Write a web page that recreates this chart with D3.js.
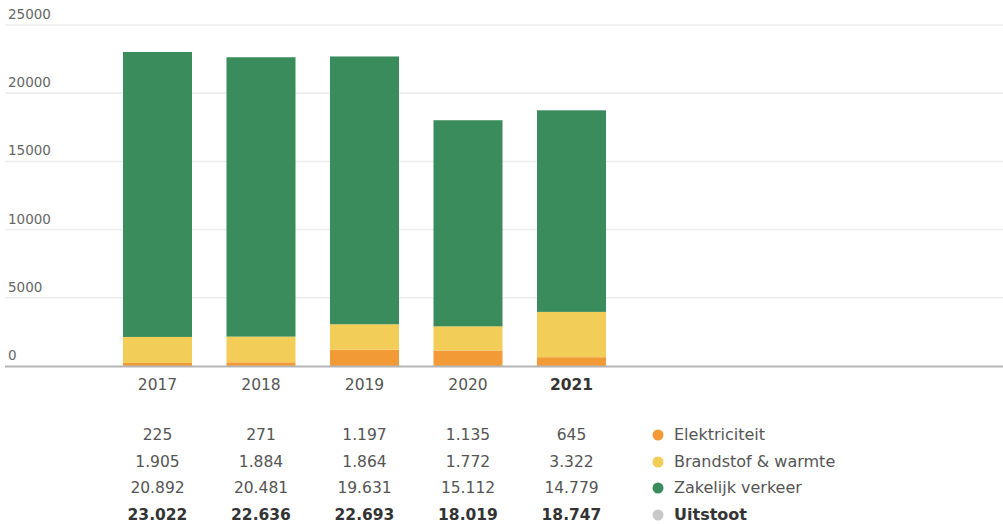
<!DOCTYPE html>
<html><head><meta charset="utf-8">
<script src="https://cdn.jsdelivr.net/npm/d3@7"></script>
<style>body{margin:0;background:#fff;font-family:"DejaVu Sans",sans-serif}</style>
</head><body><svg id="c" width="1003" height="524"></svg>
<script>
const years = ["2017","2018","2019","2020","2021"];
const elektriciteit = [225,271,1197,1135,645];
const brandstof = [1905,1884,1864,1772,3322];
const zakelijk = [20892,20481,19631,15112,14779];
const uitstoot = [23022,22636,22693,18019,18747];
const yTicks = [0,5000,10000,15000,20000,25000];
const seriesNames = ["Elektriciteit","Brandstof & warmte","Zakelijk verkeer","Uitstoot"];
const seriesColors = ["#f29a36","#f2cd57","#3a8c5c","#c8c8c8"];

const svg = d3.select("#c");
const y = d3.scaleLinear().domain([0,25000]).range([366,25]);
const x = d3.scaleBand().domain(years).range([105.75,623.25]).paddingInner(1/3).paddingOuter(1/6);

svg.append("g").selectAll("line").data(yTicks.filter(d=>d>0)).join("line")
  .attr("x1",5).attr("x2",1003).attr("y1",d=>y(d)).attr("y2",d=>y(d))
  .attr("stroke","#ececec").attr("stroke-width",1.5);
svg.append("g").selectAll("text").data(yTicks).join("text")
  .attr("x",8).attr("y",d=>y(d)-6).text(d=>d)
  .attr("font-size",13.5).attr("fill","#666");

const rows = years.map((yr,i)=>({year:yr,e:elektriciteit[i],b:brandstof[i],z:zakelijk[i]}));
const stack = d3.stack().keys(["e","b","z"])(rows);
svg.append("g").selectAll("g").data(stack).join("g")
  .attr("fill",(d,i)=>seriesColors[i])
  .selectAll("rect").data(d=>d).join("rect")
  .attr("x",d=>x(d.data.year)).attr("width",x.bandwidth())
  .attr("y",d=>y(d[1])).attr("height",d=>y(d[0])-y(d[1]));

svg.append("line").attr("x1",5).attr("x2",1003).attr("y1",y(0)+0.5).attr("y2",y(0)+0.5)
  .attr("stroke","#b5b5b5").attr("stroke-width",2);

svg.append("g").selectAll("text").data(years).join("text")
  .attr("x",d=>x(d)+x.bandwidth()/2).attr("y",390).attr("text-anchor","middle")
  .attr("font-size",15.5).attr("fill",(d,i)=>i===4?"#333":"#555")
  .attr("font-weight",(d,i)=>i===4?"bold":"normal").text(d=>d);

const fmt = v => v.toLocaleString("de-DE");
const tableRows = [elektriciteit,brandstof,zakelijk,uitstoot];
const rowY = [440,467,493,520];
tableRows.forEach((arr,r)=>{
  svg.append("g").selectAll("text").data(arr).join("text")
    .attr("x",(d,i)=>x(years[i])+x.bandwidth()/2).attr("y",rowY[r])
    .attr("text-anchor","middle").attr("font-size",15.5)
    .attr("fill",r===3?"#333":"#555").attr("font-weight",r===3?"bold":"normal")
    .text(d=>fmt(d));
});
const lg = svg.append("g").selectAll("g").data(seriesNames).join("g")
  .attr("transform",(d,i)=>`translate(658,${rowY[i]-5})`);
lg.append("circle").attr("r",5.5).attr("fill",(d,i)=>seriesColors[i]);
lg.append("text").attr("x",16).attr("y",5).attr("font-size",16)
  .attr("fill",(d,i)=>i===3?"#333":"#555").attr("font-weight",(d,i)=>i===3?"bold":"normal")
  .text(d=>d);
</script></body></html>
